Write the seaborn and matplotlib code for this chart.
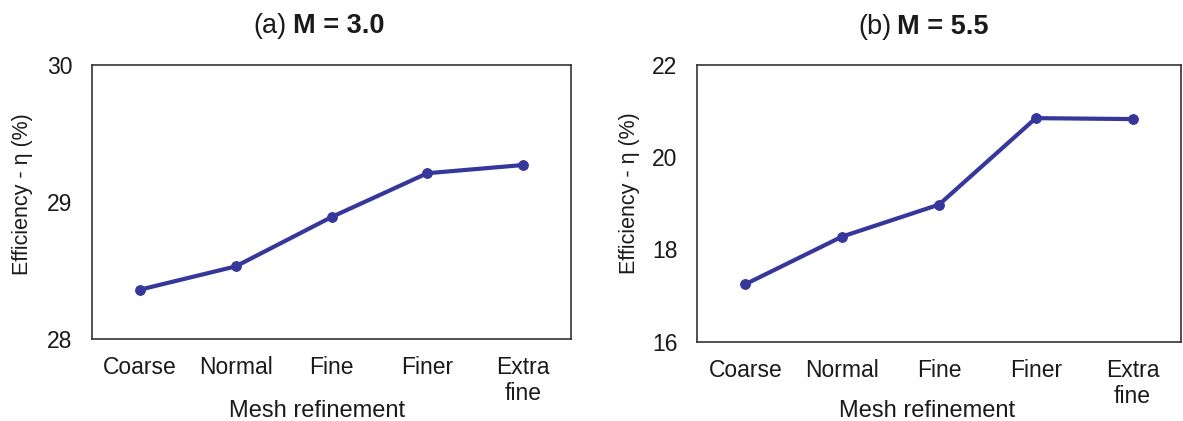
import matplotlib
matplotlib.use("Agg")
import matplotlib.pyplot as plt
import seaborn as sns
import pandas as pd

categories = ["Coarse", "Normal", "Fine", "Finer", "Extra\nfine"]
eff_m30 = [28.36, 28.53, 28.89, 29.21, 29.27]
eff_m55 = [17.25, 18.28, 18.97, 20.84, 20.82]
yticks_a = [28, 29, 30]
yticks_b = [16, 18, 20, 22]
title_prefix = ["(a)", "(b)"]
title_bold = ["M = 3.0", "M = 5.5"]

sns.set_theme(style="white")
plt.rcParams["font.family"] = ["Liberation Sans", "DejaVu Sans"]

color = "#36379b"
txt = "#1a1a1a"
fig = plt.figure(figsize=(11.83, 4.21), dpi=100)

W, H = 1183, 421
def pos(l, t, r, b):
    return [l / W, 1 - b / H, (r - l) / W, (b - t) / H]

ax1 = fig.add_axes(pos(92, 65, 571, 339))
ax2 = fig.add_axes(pos(697, 64.5, 1181, 342))

specs = [
    (ax1, eff_m30, yticks_a, 0, (-0.123, 0.529), (0.47, -0.222), (0.407, 0.420, 1.117)),
    (ax2, eff_m55, yticks_b, 1, (-0.118, 0.537), (0.475, -0.208), (0.401, 0.413, 1.109)),
]

for ax, vals, yt, i, ylc, xlc, tpos in specs:
    df = pd.DataFrame({"Mesh refinement": categories, "Efficiency": vals})
    sns.lineplot(data=df, x="Mesh refinement", y="Efficiency", ax=ax, sort=False,
                 color=color, linewidth=3.0, marker="o", markersize=7,
                 markeredgecolor=color)
    ax.set_xlim(-0.5, 4.5)
    ax.set_ylim(yt[0], yt[-1])
    ax.set_yticks(yt)
    ax.set_yticklabels([str(v) for v in yt])
    ax.tick_params(axis="both", length=0, labelsize=16.5, colors=txt)
    ax.tick_params(axis="y", pad=14)
    ax.tick_params(axis="x", pad=12)
    ax.set_ylabel("Efficiency - η (%)", fontsize=15.5, color=txt)
    ax.set_xlabel("Mesh refinement", fontsize=17, color=txt)
    ax.yaxis.set_label_coords(*ylc)
    ax.xaxis.set_label_coords(*xlc)
    ax.text(tpos[0], tpos[2], title_prefix[i], transform=ax.transAxes,
            ha="right", va="baseline", fontsize=19.5, color=txt)
    ax.text(tpos[1], tpos[2], title_bold[i], transform=ax.transAxes,
            ha="left", va="baseline", fontsize=19.5, fontweight="bold", color=txt)
    for s in ax.spines.values():
        s.set_visible(True)
        s.set_color("#333333")
        s.set_linewidth(1.2)

fig.savefig("out.png", dpi=100)
